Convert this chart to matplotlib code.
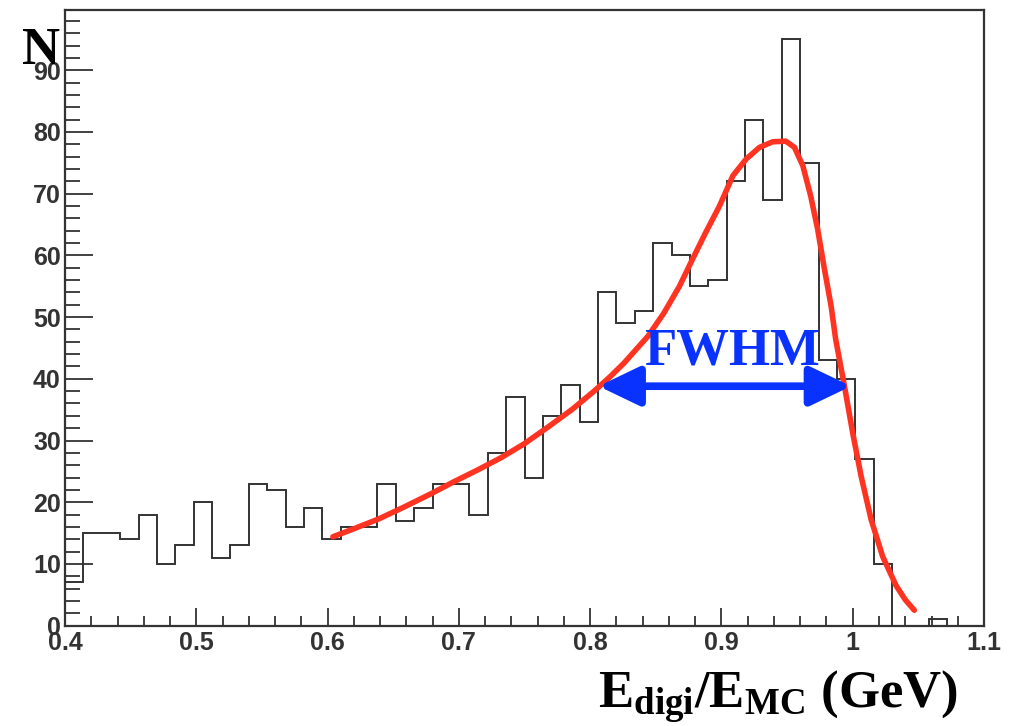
import numpy as np
import matplotlib
matplotlib.use("Agg")
import matplotlib.pyplot as plt
from matplotlib.ticker import MultipleLocator

# histogram: 50 bins between 0.4 and 1.1
x_min, x_max, n_bins = 0.4, 1.1, 50
counts = [7, 15, 15, 14, 18, 10, 13, 20, 11, 13,
          23, 22, 16, 19, 14, 16, 16, 23, 17, 19,
          23, 23, 18, 28, 37, 24, 34, 39, 33, 54,
          49, 51, 62, 60, 55, 56, 72, 82, 69, 95,
          75, 43, 40, 27, 10, 0, 0, 1, 0, 0]

# fitted curve
fit_x = [0.604, 0.620, 0.639, 0.658, 0.679, 0.696, 0.714, 0.732, 0.750, 0.768,
         0.786, 0.803, 0.815, 0.826, 0.844, 0.856, 0.868, 0.878, 0.888, 0.8985,
         0.9087, 0.9188, 0.929, 0.939, 0.949, 0.9556, 0.962, 0.968, 0.9733, 0.978,
         0.9835, 0.987, 0.9937, 1.000, 1.0064, 1.014, 1.0228, 1.033, 1.040, 1.0469]
fit_y = [14.4, 15.7, 17.3, 19.2, 21.4, 23.3, 25.2, 27.2, 29.5, 32.2,
         35.0, 38.0, 40.3, 42.6, 46.9, 50.6, 55.0, 59.4, 63.7, 68.0,
         72.9, 75.6, 77.5, 78.4, 78.5, 77.5, 74.5, 69.6, 64.2, 58.3,
         51.8, 46.4, 38.8, 31.2, 24.2, 17.2, 11.2, 6.5, 4.2, 2.5]

# FWHM arrow ends and height
fwhm_left, fwhm_right, fwhm_level = 0.8064, 0.9987, 38.8

edges = np.linspace(x_min, x_max, n_bins + 1)

fig = plt.figure(figsize=(10.13, 7.26), dpi=100)
ax = fig.add_axes([0.0642, 0.1382, 0.9072, 0.848])

ax.stairs(counts, edges, color="#333333", lw=1.4)
ax.plot(fit_x, fit_y, color="#ff3322", lw=4, solid_capstyle="round",
        solid_joinstyle="round")

ax.annotate("", xy=(fwhm_left, fwhm_level), xytext=(fwhm_right, fwhm_level),
            arrowprops=dict(arrowstyle="<|-|>,head_length=1.25,head_width=0.6",
                            color="#0a32ff", lw=5.5, mutation_scale=20,
                            shrinkA=0, shrinkB=0))
ax.text(0.9077, 42.3, "FWHM",
        color="#0a32ff", fontsize=38, fontweight="bold",
        family="Liberation Serif", ha="center", va="baseline")

ax.set_xlim(x_min, x_max)
ax.set_ylim(0, 99.75)

ax.xaxis.set_major_locator(MultipleLocator(0.1))
ax.xaxis.set_minor_locator(MultipleLocator(0.02))
ax.yaxis.set_major_locator(MultipleLocator(10))
ax.yaxis.set_minor_locator(MultipleLocator(2))
ax.set_xticks(np.arange(0.4, 1.101, 0.1))
ax.set_xticklabels(["0.4", "0.5", "0.6", "0.7", "0.8", "0.9", "1", "1.1"])

ax.tick_params(axis="both", which="both", direction="in", colors="#333333",
               top=False, right=False, labelcolor="#333333")
ax.tick_params(axis="x", which="major", length=13, width=1.3, pad=4)
ax.tick_params(axis="x", which="minor", length=7, width=1.3)
ax.tick_params(axis="y", which="major", length=20, width=1.3, pad=3)
ax.tick_params(axis="y", which="minor", length=11, width=1.3)
for lab in ax.get_xticklabels() + ax.get_yticklabels():
    lab.set_fontfamily("Liberation Sans")
    lab.set_fontweight("bold")
    lab.set_fontsize(18)

for s in ax.spines.values():
    s.set_linewidth(1.6)
    s.set_color("#333333")

# axis titles
plt.rcParams["mathtext.fontset"] = "custom"
plt.rcParams["mathtext.bf"] = "Liberation Serif:bold"
plt.rcParams["mathtext.rm"] = "Liberation Serif:bold"
fig.text(0.022, 0.912, "N", fontsize=38, fontweight="bold",
         family="Liberation Serif", ha="left", va="baseline")
fig.text(0.590, 0.025, r"$\mathbf{E_{digi}/E_{MC}}$ (GeV)", fontsize=38,
         fontweight="bold", family="Liberation Serif", ha="left", va="baseline")

fig.savefig("out.png", dpi=100)
